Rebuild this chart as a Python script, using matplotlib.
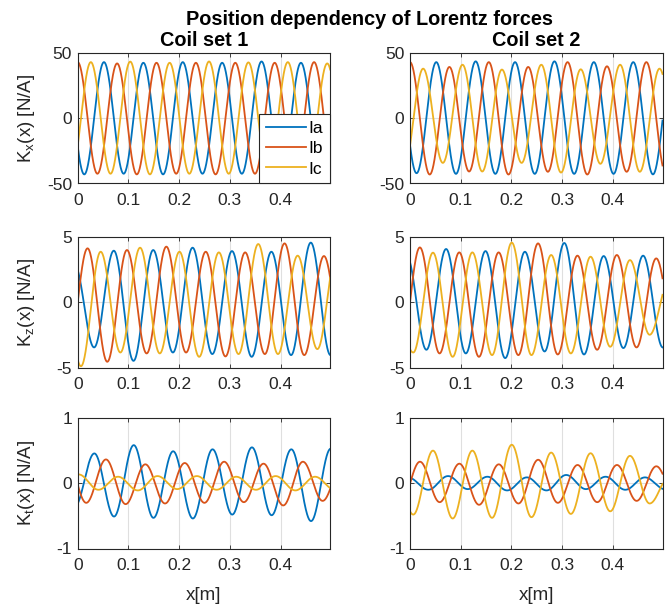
import numpy as np
import matplotlib
matplotlib.use('Agg')
import matplotlib.pyplot as plt

plt.rcParams['font.family'] = ['Liberation Sans', 'DejaVu Sans']
plt.rcParams['mathtext.fontset'] = 'custom'
plt.rcParams['mathtext.rm'] = 'Liberation Sans'

# wavelength of the pattern along x [m], read from peak spacing
WAVE = 0.0777
HALF = WAVE / 2

# each curve: x of the first extremum (at or before 0) and the
# successive peak / trough values
# --- K_x, coil set 1
kx1_ia_x0, kx1_ia = -0.0259, [43, -43, 43, -42.5, 42.5, -43, 43, -42.5, 42.5, -42.5, 43.5, -43, 42.5, -43, 43]
kx1_ib_x0, kx1_ib = 0.0, [43, -42.5, 42, -43, 42.5, -42.5, 42.5, -43, 42.5, -42.5, 42.5, -42.5, 43, -42.5]
kx1_ic_x0, kx1_ic = -0.01295, [-42.5, 43, -42.5, 43.4, -43, 42.5, -42.5, 43.5, -42.5, 42.8, -43, 43, -42.5, 42, -42.5]
# --- K_x, coil set 2
kx2_ia_x0, kx2_ia = -0.0259, [43.6, -42.1, 43, -42.6, 43.6, -42.6, 43, -42.6, 43.6, -42.6, 43, -42.6, 43, -43, 43.6]
kx2_ib_x0, kx2_ib = 0.0, [43, -43.1, 39.3, -40.8, 43, -43.1, 39.3, -41, 43, -43.1, 39.8, -41, 43, -43]
kx2_ic_x0, kx2_ic = -0.01295, [-40.8, 38, -34.2, 41, -40.8, 37.3, -34.2, 41, -41.6, 37.5, -34.9, 41, -41, 38, -34.5]
# --- K_z, coil set 1
kz1_ia_x0, kz1_ia = -0.0065, [2.9, -3.46, 3.95, -4.49, 4.0, -3.85, 4.18, -3.97, 3.92, -4.18, 3.87, -4.05, 4.57, -4.05, 3.5]
kz1_ib_x0, kz1_ib = -0.0194, [-4.13, 4.13, -4.56, 4.0, -3.92, 4.26, -3.85, 3.87, -4.15, 3.82, -3.97, 4.51, -4.05, 3.54, -3.8]
kz1_ic_x0, kz1_ic = -0.0324, [2.5, -4.9, 3.87, -3.85, 4.18, -3.92, 3.87, -4.18, 3.82, -3.97, 4.46, -3.97, 3.57, -3.59, 3.9]
# --- K_z, coil set 2
kz2_ia_x0, kz2_ia = -0.0065, [3.56, -3.64, 4.08, -3.92, 3.92, -4.28, 3.87, -3.77, 4.54, -4.0, 3.54, -3.51, 3.57, -3.46, 3.3]
kz2_ib_x0, kz2_ib = -0.0194, [-4.2, 4.2, -3.92, 3.82, -4.18, 3.82, -4.05, 4.51, -4.0, 3.57, -3.64, 3.62, -3.46, 3.36, -3.3]
kz2_ic_x0, kz2_ic = -0.0324, [0.0, -3.85, 3.8, -4.18, 3.82, -4.05, 4.57, -4.05, 3.62, -3.92, 3.49, -3.41, 3.23, -2.49, 1.7]
# --- K_t, coil set 1
kt1_ia_x0, kt1_ia = -0.006, [-0.36, 0.457, -0.51, 0.584, -0.53, 0.49, -0.54, 0.52, -0.48, 0.55, -0.49, 0.52, -0.58, 0.53, -0.5]
kt1_ib_x0, kt1_ib = -0.022, [0.4, -0.30, 0.365, -0.32, 0.29, -0.31, 0.31, -0.30, 0.33, -0.29, 0.30, -0.34, 0.33, -0.27, 0.3]
kt1_ic_x0, kt1_ic = -0.0369, [-0.1, 0.135, -0.1, 0.10, -0.11, 0.11, -0.09, 0.11, -0.1, 0.1, -0.1, 0.11, -0.11, 0.1, -0.1]
# --- K_t, coil set 2
kt2_ia_x0, kt2_ia = -0.0027, [0.085, -0.1, 0.11, -0.09, 0.10, -0.11, 0.09, -0.11, 0.127, -0.09, 0.10, -0.1, 0.09, -0.09]
kt2_ib_x0, kt2_ib = -0.0192, [-0.33, 0.33, -0.29, 0.30, -0.33, 0.29, -0.31, 0.36, -0.30, 0.28, -0.29, 0.28, -0.27, 0.26, -0.25]
kt2_ic_x0, kt2_ic = -0.0324, [0.3, -0.48, 0.50, -0.54, 0.50, -0.53, 0.59, -0.52, 0.47, -0.47, 0.46, -0.43, 0.42, -0.31, 0.1]

x_max = 0.498
phases = ['Ia', 'Ib', 'Ic']
colors = ['#0072BD', '#D95319', '#EDB120']
col_titles = ['Coil set 1', 'Coil set 2']
row_labels = ['K$_\\mathregular{x}$(x) [N/A]', 'K$_\\mathregular{z}$(x) [N/A]', 'K$_\\mathregular{t}$(x) [N/A]']
row_lims = [50, 5, 1]

panels = [
    [[(kx1_ia_x0, kx1_ia), (kx1_ib_x0, kx1_ib), (kx1_ic_x0, kx1_ic)],
     [(kx2_ia_x0, kx2_ia), (kx2_ib_x0, kx2_ib), (kx2_ic_x0, kx2_ic)]],
    [[(kz1_ia_x0, kz1_ia), (kz1_ib_x0, kz1_ib), (kz1_ic_x0, kz1_ic)],
     [(kz2_ia_x0, kz2_ia), (kz2_ib_x0, kz2_ib), (kz2_ic_x0, kz2_ic)]],
    [[(kt1_ia_x0, kt1_ia), (kt1_ib_x0, kt1_ib), (kt1_ic_x0, kt1_ic)],
     [(kt2_ia_x0, kt2_ia), (kt2_ib_x0, kt2_ib), (kt2_ic_x0, kt2_ic)]],
]


def wave(x, x0, vals):
    # half-cosine segments between the read peak/trough values
    v = np.asarray(vals, dtype=float)
    pos = (x - x0) / HALF
    i = np.clip(np.floor(pos).astype(int), 0, len(v) - 2)
    t = pos - i
    w = (1 - np.cos(np.pi * t)) / 2
    return v[i] + (v[i + 1] - v[i]) * w


x = np.linspace(0, x_max, 2000)

W, H = 668, 605
fig = plt.figure(figsize=(W / 100, H / 100), dpi=100)

lefts = [77.7, 410]
tops = [53, 237, 418]
aw, ah = 252.5, 130.5
dark = '#262626'

for r in range(3):
    for c in range(2):
        ax = fig.add_axes([lefts[c] / W, 1 - (tops[r] + ah) / H, aw / W, ah / H])
        for k, (x0, vals) in enumerate(panels[r][c]):
            ax.plot(x, wave(x, x0, vals), color=colors[k], lw=1.3, label=phases[k])
        lim = row_lims[r]
        ax.set_xlim(0, x_max)
        ax.set_ylim(-lim, lim)
        ax.set_xticks([0, 0.1, 0.2, 0.3, 0.4])
        ax.set_xticklabels(['0', '0.1', '0.2', '0.3', '0.4'])
        ax.set_yticks([-lim, 0, lim])
        ax.set_yticklabels([str(-lim), '0', str(lim)])
        ax.grid(True, color='#dfdfdf', lw=0.8)
        ax.set_axisbelow(True)
        ax.tick_params(direction='in', length=3, width=0.6, colors=dark,
                       labelsize=12.5, top=True, right=True)
        ax.tick_params(axis='x', pad=7)
        ax.tick_params(axis='y', pad=4)
        for s in ax.spines.values():
            s.set_color(dark)
            s.set_linewidth(0.8)
        if r == 0:
            ax.set_title(col_titles[c], fontsize=14.3, fontweight='bold', pad=5)
        if c == 0:
            ax.set_ylabel(row_labels[r], fontsize=13.5, color=dark)
            ax.yaxis.set_label_coords(-0.16, 0.5)
        if r == 2:
            ax.set_xlabel('x[m]', fontsize=13.5, color=dark)
            ax.xaxis.set_label_coords(0.5, -0.295)
        if r == 0 and c == 0:
            leg = ax.legend(loc='lower right', borderaxespad=0, fancybox=False,
                            edgecolor=dark, framealpha=1, fontsize=12.5,
                            handlelength=2.3, handletextpad=0.15,
                            borderpad=0.4, labelspacing=0.3)
            leg.get_frame().set_linewidth(0.8)

fig.text(370 / W, 1 - 25 / H, 'Position dependency of Lorentz forces',
         ha='center', va='baseline', fontsize=14.3, fontweight='bold')

fig.savefig('out.png', dpi=100)
